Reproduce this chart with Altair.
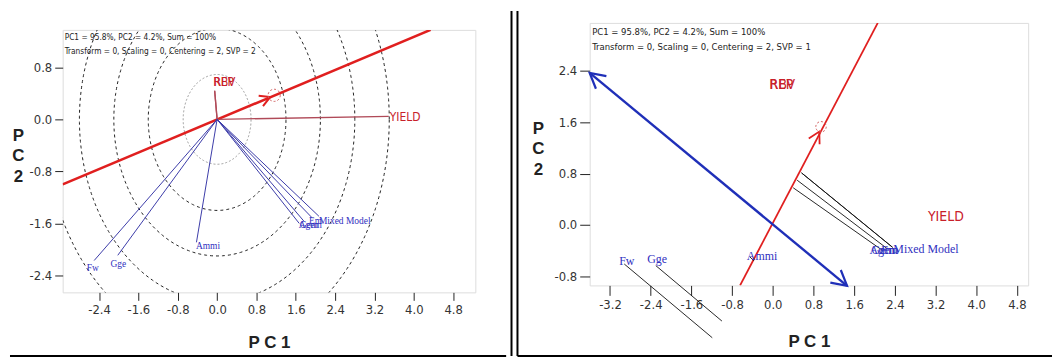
import altair as alt
import numpy as np
import pandas as pd

SANS = "Liberation Sans Narrow, Arial Narrow, DejaVu Sans Condensed, Liberation Sans, Arial, sans-serif"
TITLE = "Liberation Sans, Arial, sans-serif"
SERIF = "Liberation Serif, Times New Roman, serif"

# ---------------- shared ----------------
genotypes = ["Fw", "Gge", "Ammi", "Agem", "Gem", "Em", "Mixed Model"]
environments = ["REP", "RBV", "YIELD"]
tick_values = [-3.2, -2.4, -1.6, -0.8, 0.0, 0.8, 1.6, 2.4, 3.2, 4.0, 4.8]
info_line1 = "PC1 = 95.8%, PC2 = 4.2%, Sum = 100%"
info_left = "Transform = 0, Scaling = 0, Centering = 2, SVP = 2"
info_right = "Transform = 0, Scaling = 0, Centering = 2, SVP = 1"

# ---------------- left panel (SVP = 2) ----------------
L_W, L_H = 415, 264
L_xdom = [-3.14, 5.25]
L_ydom = [-2.66, 1.376]
L_gen_x = [-2.50, -2.02, -0.42, 1.67, 1.77, 1.94, 2.07]
L_gen_y = [-2.17, -2.09, -1.89, -1.60, -1.57, -1.52, -1.49]
L_genlab_x = [-2.65, -2.17, -0.43, 1.66, 1.68, 1.87, 2.07]
L_genlab_y = [-2.28, -2.23, -1.95, -1.62, -1.62, -1.56, -1.56]
L_env_x = [-0.05, -0.05, 3.49]
L_env_y = [0.44, 0.44, 0.045]
L_envlab_x = [-0.08, -0.07, 3.51]
L_envlab_y = [0.57, 0.57, 0.035]
L_aea_x = [-3.14, 4.34]          # red axis, where it meets the frame
L_aea_y = [-1.00, 1.376]
L_arrow_xy = [1.08, 0.345]
L_avgenv_xy = [1.16, 0.37]
L_circle_r = [1.4, 2.1, 2.8, 3.5]
L_inner_r = [0.69]

# ---------------- right panel (SVP = 1) ----------------
R_W, R_H = 441, 264
R_xdom = [-3.6, 5.02]
R_ydom = [-0.944, 3.15]
R_gen_x = [-2.92, -2.30, -0.45, 2.16, 2.258, 2.355, 2.355]
R_gen_y = [-0.61, -0.635, -0.50, -0.40, -0.376, -0.35, -0.35]
R_foot_x = [-1.19, -1.00, -0.37, 0.401, 0.479, 0.565, 0.565]
R_foot_y = [-1.76, -1.50, -0.56, 0.579, 0.697, 0.811, 0.811]
R_genlab_x = [-3.02, -2.47, -0.51, 1.90, 1.94, 2.13, 2.37]
R_genlab_y = [-0.557, -0.54, -0.48, -0.39, -0.39, -0.39, -0.376]
R_envlab_x = [-0.07, -0.06, 3.05]
R_envlab_y = [2.18, 2.18, 0.115]
R_aea_x = [-0.643, 2.064]
R_aea_y = [-0.944, 3.15]
R_arrow_xy = [0.915, 1.455]
R_avgenv_xy = [0.948, 1.53]
R_blue_x = [-3.6, 1.46]
R_blue_y = [2.37, -0.95]

ARROW = "M -1 -0.55 L 0 0 L -1 0.55"
LABEL_EXPR = "datum.value < 0 ? '-' + format(-datum.value, '.1f') : format(datum.value, '.1f')"


def ticks_in(dom):
    return [t for t in tick_values if dom[0] - 1e-9 <= t <= dom[1] + 1e-9]


def scales_axes(xdom, ydom, tick, ytx, yty, xty, pad):
    xs = alt.Scale(domain=xdom, nice=False, zero=False)
    ys = alt.Scale(domain=ydom, nice=False, zero=False)
    common = dict(grid=False, domain=False, tickSize=tick, tickColor="#222", tickWidth=1,
                  labelFont=SANS, labelFontSize=13, labelColor="#333", labelPadding=pad,
                  labelOverlap=False, labelFlush=False, labelExpr=LABEL_EXPR,
                  titleFont=TITLE, titleFontSize=17, titleFontWeight="bold", titleColor="#222")
    xa = alt.Axis(values=ticks_in(xdom), title="P C 1", titleY=xty, titleBaseline="middle", **common)
    ya = alt.Axis(values=ticks_in(ydom), title=["P", "C", "2"], titleAngle=0, titleX=ytx, titleY=yty,
                  titleAlign="center", titleBaseline="middle", titleLineHeight=20.5, **common)
    return xs, ys, xa, ya


def screen_angle(dx, dy, sx, sy):
    return float(np.degrees(np.arctan2(-dy * sy, dx * sx)) % 360)


border = pd.DataFrame({"k": [0]})

# ======================= LEFT =======================
xs, ys, xa, ya = scales_axes(L_xdom, L_ydom, 8, -45, 106, 50, 3)
X = lambda f: alt.X(f, type="quantitative", scale=xs, axis=xa)
Y = lambda f: alt.Y(f, type="quantitative", scale=ys, axis=ya)
sxL = L_W / (L_xdom[1] - L_xdom[0])
syL = L_H / (L_ydom[1] - L_ydom[0])

theta = np.linspace(0, 2 * np.pi, 361)
circ = pd.DataFrame([dict(r=r, i=i, x=r * np.cos(t), y=r * np.sin(t))
                     for r in L_circle_r for i, t in enumerate(theta)])
inner = pd.DataFrame([dict(r=r, i=i, x=r * np.cos(t), y=r * np.sin(t))
                      for r in L_inner_r for i, t in enumerate(theta)])

l_circles = alt.Chart(circ).mark_line(clip=True, color="#222", strokeWidth=1, strokeDash=[3, 3]).encode(
    x=X("x"), y=Y("y"), detail="r:N", order="i:Q")
l_inner = alt.Chart(inner).mark_line(clip=True, color="#999", strokeWidth=1, strokeDash=[2, 2]).encode(
    x=X("x"), y=Y("y"), detail="r:N", order="i:Q")

l_aea_df = pd.DataFrame({"x": [L_aea_x[0]], "y": [L_aea_y[0]], "x2": [L_aea_x[1]], "y2": [L_aea_y[1]]})
l_aea = alt.Chart(l_aea_df).mark_rule(clip=True, color="#e01f1f", strokeWidth=2.6).encode(
    x=X("x"), y=Y("y"), x2="x2", y2="y2")

l_env_df = pd.DataFrame({"env": environments, "x0": [0.0] * 3, "y0": [0.0] * 3, "x": L_env_x, "y": L_env_y,
                         "lx": L_envlab_x, "ly": L_envlab_y})
l_env_vec = alt.Chart(l_env_df).mark_rule(color="#b04a58", strokeWidth=1.3).encode(
    x=X("x0"), y=Y("y0"), x2="x", y2="y")
l_env_lab = alt.Chart(l_env_df).mark_text(align="left", baseline="middle", font=SANS, fontSize=12,
                                          color="#c8202a").encode(x=X("lx"), y=Y("ly"), text="env:N")

l_gen_df = pd.DataFrame({"gen": genotypes, "x0": [0.0] * 7, "y0": [0.0] * 7, "x": L_gen_x, "y": L_gen_y,
                         "lx": L_genlab_x, "ly": L_genlab_y})
l_gen_vec = alt.Chart(l_gen_df).mark_rule(color="#3b3ba8", strokeWidth=1).encode(
    x=X("x0"), y=Y("y0"), x2="x", y2="y")
l_gen_lab = alt.Chart(l_gen_df).mark_text(align="left", baseline="middle", font=SERIF, fontSize=9.5,
                                          color="#3030c0").encode(x=X("lx"), y=Y("ly"), text="gen:N")

l_dirx = L_aea_x[1] - L_aea_x[0]
l_diry = L_aea_y[1] - L_aea_y[0]
l_arrow_df = pd.DataFrame({"x": [L_arrow_xy[0]], "y": [L_arrow_xy[1]],
                           "a": [screen_angle(l_dirx, l_diry, sxL, syL)]})
l_arrow = alt.Chart(l_arrow_df).mark_point(shape=ARROW, filled=False, size=420, color="#e01f1f",
                                           strokeWidth=2, opacity=1).encode(
    x=X("x"), y=Y("y"), angle=alt.Angle("a:Q", scale=None))
l_avg = alt.Chart(pd.DataFrame({"x": [L_avgenv_xy[0]], "y": [L_avgenv_xy[1]]})).mark_point(
    shape="circle", filled=False, size=150, color="#d06060", strokeWidth=1, strokeDash=[2, 2], opacity=1).encode(
    x=X("x"), y=Y("y"))

l_t1 = alt.Chart(pd.DataFrame({"t": [info_line1]})).mark_text(
    align="left", baseline="middle", font=SANS, fontSize=8.3, color="#222").encode(
    x=alt.value(2), y=alt.value(8), text="t:N")
l_t2 = alt.Chart(pd.DataFrame({"t": [info_left]})).mark_text(
    align="left", baseline="middle", font=SANS, fontSize=8.3, color="#222").encode(
    x=alt.value(2), y=alt.value(22), text="t:N")

l_bot = alt.Chart(border).mark_rule(color="#000", strokeWidth=2).encode(
    x=alt.value(-53), x2=alt.value(446), y=alt.value(328))

left = alt.layer(l_circles, l_inner, l_aea, l_env_vec, l_gen_vec, l_arrow, l_avg,
                 l_env_lab, l_gen_lab, l_t1, l_t2, l_bot).properties(width=L_W, height=L_H)

# small invisible spacer that lowers the left panel below the right one
spacer = alt.Chart(border).mark_rule(opacity=0).encode(
    x=alt.value(0), y=alt.value(0)).properties(width=10, height=1,
                                                view=alt.ViewBackground(stroke="transparent"))
left_col = alt.vconcat(spacer, left, spacing=4)

# ======================= RIGHT =======================
xs, ys, xa, ya = scales_axes(R_xdom, R_ydom, 10, -52, 106, 56, 3)
X = lambda f: alt.X(f, type="quantitative", scale=xs, axis=xa)
Y = lambda f: alt.Y(f, type="quantitative", scale=ys, axis=ya)
sxR = R_W / (R_xdom[1] - R_xdom[0])
syR = R_H / (R_ydom[1] - R_ydom[0])

r_aea_df = pd.DataFrame({"x": [R_aea_x[0]], "y": [R_aea_y[0]], "x2": [R_aea_x[1]], "y2": [R_aea_y[1]]})
r_aea = alt.Chart(r_aea_df).mark_rule(clip=True, color="#e01f1f", strokeWidth=1.8).encode(
    x=X("x"), y=Y("y"), x2="x2", y2="y2")
r_blue_df = pd.DataFrame({"x": [R_blue_x[0]], "y": [R_blue_y[0]], "x2": [R_blue_x[1]], "y2": [R_blue_y[1]]})
r_blue = alt.Chart(r_blue_df).mark_rule(color="#1f2fb8", strokeWidth=2.4).encode(
    x=X("x"), y=Y("y"), x2="x2", y2="y2")

bdx = R_blue_x[1] - R_blue_x[0]
bdy = R_blue_y[1] - R_blue_y[0]
r_heads_df = pd.DataFrame({"x": R_blue_x, "y": R_blue_y,
                           "a": [screen_angle(-bdx, -bdy, sxR, syR), screen_angle(bdx, bdy, sxR, syR)]})
r_heads = alt.Chart(r_heads_df).mark_point(shape=ARROW, filled=False, size=900, color="#1f2fb8",
                                           strokeWidth=2.2, opacity=1).encode(
    x=X("x"), y=Y("y"), angle=alt.Angle("a:Q", scale=None))

rdx = R_aea_x[1] - R_aea_x[0]
rdy = R_aea_y[1] - R_aea_y[0]
r_arrow_df = pd.DataFrame({"x": [R_arrow_xy[0]], "y": [R_arrow_xy[1]], "a": [screen_angle(rdx, rdy, sxR, syR)]})
r_arrow = alt.Chart(r_arrow_df).mark_point(shape=ARROW, filled=False, size=500, color="#e01f1f",
                                           strokeWidth=1.8, opacity=1).encode(
    x=X("x"), y=Y("y"), angle=alt.Angle("a:Q", scale=None))
r_avg = alt.Chart(pd.DataFrame({"x": [R_avgenv_xy[0]], "y": [R_avgenv_xy[1]]})).mark_point(
    shape="circle", filled=False, size=110, color="#d06060", strokeWidth=1, strokeDash=[2, 2], opacity=1).encode(
    x=X("x"), y=Y("y"))

r_gen_df = pd.DataFrame({"gen": genotypes, "x": R_gen_x, "y": R_gen_y, "fx": R_foot_x, "fy": R_foot_y,
                         "lx": R_genlab_x, "ly": R_genlab_y})
r_proj = alt.Chart(r_gen_df).mark_rule(color="#111", strokeWidth=0.9).encode(
    x=X("x"), y=Y("y"), x2="fx", y2="fy")
r_gen_lab = alt.Chart(r_gen_df).mark_text(align="left", baseline="middle", font=SERIF, fontSize=12,
                                          color="#3030c0").encode(x=X("lx"), y=Y("ly"), text="gen:N")
r_env_df = pd.DataFrame({"env": environments, "lx": R_envlab_x, "ly": R_envlab_y})
r_env_lab = alt.Chart(r_env_df).mark_text(align="left", baseline="middle", font=SANS, fontSize=14,
                                          color="#c8202a").encode(x=X("lx"), y=Y("ly"), text="env:N")

r_t1 = alt.Chart(pd.DataFrame({"t": [info_line1]})).mark_text(
    align="left", baseline="middle", font=SANS, fontSize=9.5, color="#222").encode(
    x=alt.value(2.5), y=alt.value(8.7), text="t:N")
r_t2 = alt.Chart(pd.DataFrame({"t": [info_right]})).mark_text(
    align="left", baseline="middle", font=SANS, fontSize=9.5, color="#222").encode(
    x=alt.value(2.5), y=alt.value(24.4), text="t:N")

# table cell dividers (double line) and bottom border
r_div = alt.Chart(pd.DataFrame({"xp": [-78.6, -72.6]})).mark_rule(color="#000", strokeWidth=2).encode(
    x=alt.X("xp:Q", scale=None), y=alt.value(-12), y2=alt.value(335))
r_bot = alt.Chart(border).mark_rule(color="#000", strokeWidth=2).encode(
    x=alt.value(-72.6), x2=alt.value(465), y=alt.value(335))

right = alt.layer(r_aea, r_blue, r_heads, r_arrow, r_avg, r_proj, r_env_lab, r_gen_lab,
                  r_t1, r_t2, r_div, r_bot).properties(width=R_W, height=R_H)

chart = alt.hconcat(left_col, right, spacing=1).resolve_scale(
    x="independent", y="independent").properties(padding=0).configure_view(
    stroke="#333", strokeWidth=1.2).configure(background="white")

chart.save("out.html", embed_options={"renderer": "svg", "actions": False})
